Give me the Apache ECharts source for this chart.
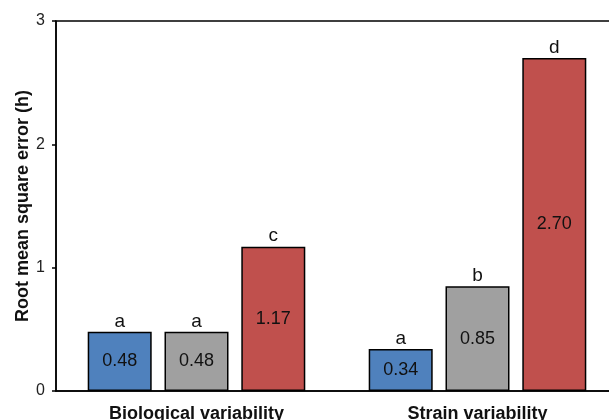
<!DOCTYPE html>
<html><head><meta charset="utf-8">
<script src="https://cdn.jsdelivr.net/npm/echarts@6/dist/echarts.min.js"></script>
<style>html,body{margin:0;padding:0;background:#fff}#c{width:609px;height:420px}</style>
</head><body><div id="c"></div>
<script>
const categories = ['Biological variability', 'Strain variability'];
const blueValues = [0.48, 0.34];
const grayValues = [0.48, 0.85];
const redValues = [1.17, 2.70];
const blueLetters = ['a', 'a'];
const grayLetters = ['a', 'b'];
const redLetters = ['c', 'd'];
const yTicks = [0, 1, 2, 3];

const font = 'Liberation Sans, Arial, sans-serif';
function valueSeries(name, data, color, stack) {
  return {
    name: name, type: 'bar', data: data, stack: stack,
    barWidth: 64, barGap: '20%',
    itemStyle: { color: color, borderColor: '#000', borderWidth: 1.5 },
    label: { show: true, position: 'inside', color: '#111', fontFamily: font, fontSize: 18,
      formatter: p => p.value.toFixed(2) },
    emphasis: { disabled: true }, silent: true
  };
}
function letterSeries(letters, stack) {
  return {
    type: 'bar', data: letters.map(() => 0), stack: stack,
    barWidth: 64, barGap: '20%',
    itemStyle: { color: 'transparent', borderWidth: 0 },
    label: { show: true, position: 'top', distance: 1, color: '#111', fontFamily: font, fontSize: 19,
      formatter: p => letters[p.dataIndex] },
    emphasis: { disabled: true }, silent: true
  };
}
const chart = echarts.init(document.getElementById('c'));
chart.setOption({
  animation: false,
  grid: { left: 56, top: 21, right: -9, bottom: 29, show: true, borderColor: '#000', borderWidth: 1.5,
    containLabel: false, outerBoundsMode: 'none' },
  xAxis: {
    type: 'category', data: categories,
    axisLine: { lineStyle: { color: '#000', width: 1.5 } },
    axisTick: { show: false },
    axisLabel: { color: '#111', fontFamily: font, fontSize: 18, fontWeight: 'bold', margin: 14 }
  },
  yAxis: {
    type: 'value', min: yTicks[0], max: yTicks[yTicks.length - 1], interval: 1,
    name: 'Root mean square error (h)', nameLocation: 'middle', nameGap: 24, nameMoveOverlap: false,
    nameTextStyle: { color: '#111', fontFamily: font, fontSize: 18, fontWeight: 'bold' },
    axisLine: { show: true, lineStyle: { color: '#000', width: 1.5 } },
    axisTick: { show: true, length: 4, lineStyle: { color: '#000', width: 1.5 } },
    splitLine: { show: false },
    axisLabel: { color: '#222', fontFamily: font, fontSize: 16, margin: 11 }
  },
  series: [
    valueSeries('blue', blueValues, '#4F81BD', 's1'),
    letterSeries(blueLetters, 's1'),
    valueSeries('gray', grayValues, '#A0A0A0', 's2'),
    letterSeries(grayLetters, 's2'),
    valueSeries('red', redValues, '#C0504D', 's3'),
    letterSeries(redLetters, 's3')
  ]
});
</script></body></html>
